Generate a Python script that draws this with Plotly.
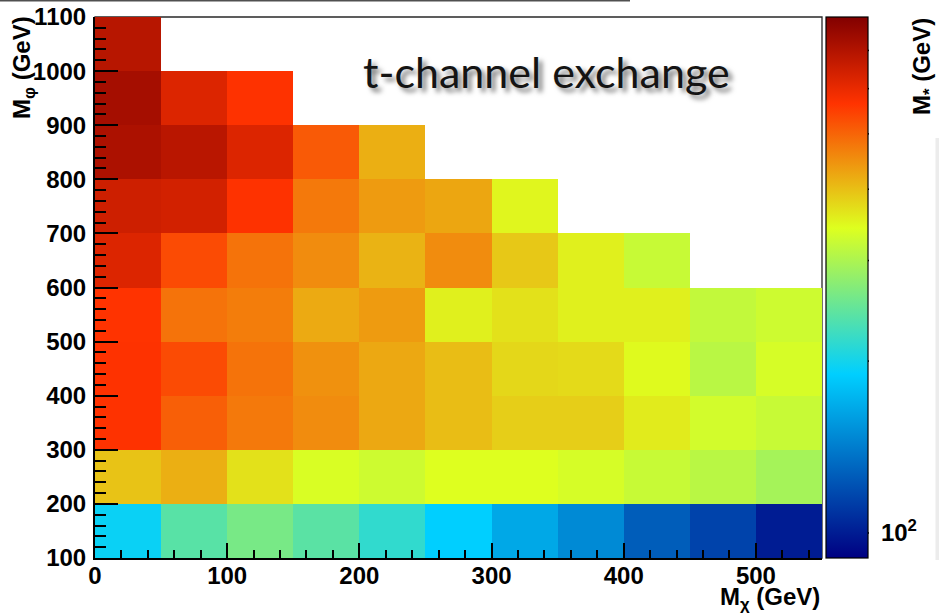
import numpy as np
import plotly.graph_objects as go

# ---- data -------------------------------------------------------------
# bin centres (GeV)
m_chi = [25, 75, 125, 175, 225, 275, 325, 375, 425, 475, 525]
m_phi = [150, 250, 350, 450, 550, 650, 750, 850, 950, 1050]

# M* (GeV) per (M_phi row, M_chi column); None = no point
m_star = [
    [195, 240, 261, 241, 216, 190, 165, 148, 126, 115, 100],
    [396, 416, 368, 338, 327, 342, 342, 335, 322, 310, 294],
    [567, 507, 476, 454, 424, 402, 386, 386, 359, 331, 322],
    [567, 533, 483, 448, 424, 402, 377, 375, 346, 310, 335],
    [565, 483, 471, 422, 438, 355, 368, 355, 355, 318, 327],
    [623, 533, 483, 454, 412, 454, 392, 355, 322, None, None],
    [650, 640, 567, 476, 438, 426, 350, None, None, None, None],
    [712, 687, 623, 513, 416, None, None, None, None, None, None],
    [726, 623, 567, None, None, None, None, None, None, None, None],
    [690, None, None, None, None, None, None, None, None, None, None],
]

# colour axis (log scale)
cbar_range = [90.4, 801.0]
cbar_ticks = [100, 200, 300, 400, 500, 600, 700]
cbar_ticktext = ["10<sup>2</sup>", "", "", "", "", "", ""]

x_ticks = [0, 100, 200, 300, 400, 500]
y_ticks = [100, 200, 300, 400, 500, 600, 700, 800, 900, 1000, 1100]

# ---- helpers ----------------------------------------------------------
W, H = 939, 614
L, R, T, B = 95, 822, 17, 558  # plot box in pixels
CB_L, CB_R = 826, 869          # colour bar box in pixels


def px_x(p):
    return (p - L) / (R - L)


def px_y(p):
    return (B - p) / (B - T)


zlog = np.log10(np.array(m_star, dtype=float))
zmin, zmax = np.log10(cbar_range[0]), np.log10(cbar_range[1])

palette = [
    [0.00, "rgb(0,0,130)"],
    [0.34, "rgb(0,207,255)"],
    [0.61, "rgb(222,255,31)"],
    [0.84, "rgb(255,51,0)"],
    [1.00, "rgb(130,0,0)"],
]

bold = dict(family="Liberation Sans, Arial, sans-serif", size=24, color="black", weight="bold")

fig = go.Figure(
    go.Heatmap(
        x=m_chi,
        y=m_phi,
        z=zlog,
        zmin=zmin,
        zmax=zmax,
        colorscale=palette,
        hoverongaps=False,
        colorbar=dict(
            x=px_x(CB_L), xanchor="left", xpad=0,
            y=1, yanchor="top", ypad=0,
            len=1, lenmode="fraction",
            thickness=CB_R - CB_L - 1,
            outlinewidth=1.2, outlinecolor="black",
            tickmode="array",
            tickvals=np.log10(cbar_ticks),
            ticktext=cbar_ticktext,
            # labels sit clear of the bar; the visible ticks point inward (shapes below)
            ticks="outside", ticklen=8, tickcolor="rgba(0,0,0,0)",
            tickfont=bold,
        ),
    )
)

fig.update_xaxes(
    range=[0, 550],
    tickmode="array", tickvals=x_ticks,
    ticks="inside", ticklen=15, tickwidth=2, tickcolor="black",
    minor=dict(dtick=20, ticks="inside", ticklen=8, tickwidth=1.5, tickcolor="black"),
    showline=True, linewidth=2, linecolor="black",
    showgrid=False, zeroline=False,
    tickfont=bold, ticklabelstandoff=-5,
)
fig.update_yaxes(
    range=[100, 1100],
    tickmode="array", tickvals=y_ticks,
    ticks="inside", ticklen=23, tickwidth=2, tickcolor="black",
    minor=dict(dtick=20, ticks="inside", ticklen=11, tickwidth=1.5, tickcolor="black"),
    showline=True, linewidth=2, linecolor="black",
    showgrid=False, zeroline=False,
    tickfont=bold, ticklabelstandoff=2,
)

shapes = [
    # frame (top / right edges)
    dict(type="rect", xref="paper", yref="paper", x0=0, x1=1, y0=0, y1=1,
         line=dict(color="rgb(40,40,40)", width=1.3), layer="below"),
    # thin rule along the page top
    dict(type="line", xref="paper", yref="paper",
         x0=px_x(0), x1=px_x(630), y0=px_y(0.7), y1=px_y(0.7),
         line=dict(color="rgb(80,80,80)", width=1.4)),
    # faint strip at the right edge
    dict(type="rect", xref="paper", yref="paper",
         x0=px_x(935.5), x1=px_x(940), y0=px_y(560), y1=px_y(138),
         fillcolor="rgb(236,236,236)", line=dict(width=0)),
]

# inward ticks on the colour bar (long one for the decade)
for v in cbar_ticks:
    yp = (np.log10(v) - zmin) / (zmax - zmin)
    tl = 23 if v == 100 else 11
    shapes.append(dict(type="line", xref="paper", yref="paper",
                       x0=px_x(CB_R - tl), x1=px_x(CB_R), y0=yp, y1=yp,
                       line=dict(color="black", width=1.5)))

annotations = [
    dict(text="M<sub>φ</sub> (GeV)", textangle=-90, xref="paper", yref="paper",
         x=px_x(24), y=px_y(68), xanchor="center", yanchor="middle",
         showarrow=False, font=bold),
    dict(text="M<sub>χ</sub> (GeV)", xref="paper", yref="paper",
         x=1, y=px_y(598), xanchor="right", yanchor="middle",
         showarrow=False, font=bold),
    dict(text="M<sub>*</sub> (GeV)", textangle=-90, xref="paper", yref="paper",
         x=px_x(924), y=px_y(67), xanchor="center", yanchor="middle",
         showarrow=False, font=bold),
    dict(text="t-channel exchange", xref="paper", yref="paper",
         x=px_x(546), y=px_y(72), xanchor="center", yanchor="middle",
         showarrow=False,
         font=dict(family="Lato, sans-serif", size=43, color="rgb(20,20,20)",
                   shadow="4px 4px 5px rgba(0,0,0,0.55)")),
]

fig.update_layout(
    width=W, height=H,
    margin=dict(l=L, r=W - R, t=T, b=H - B, pad=0, autoexpand=False),
    paper_bgcolor="white", plot_bgcolor="white",
    shapes=shapes, annotations=annotations,
    showlegend=False,
)

fig.write_html("out.html")
